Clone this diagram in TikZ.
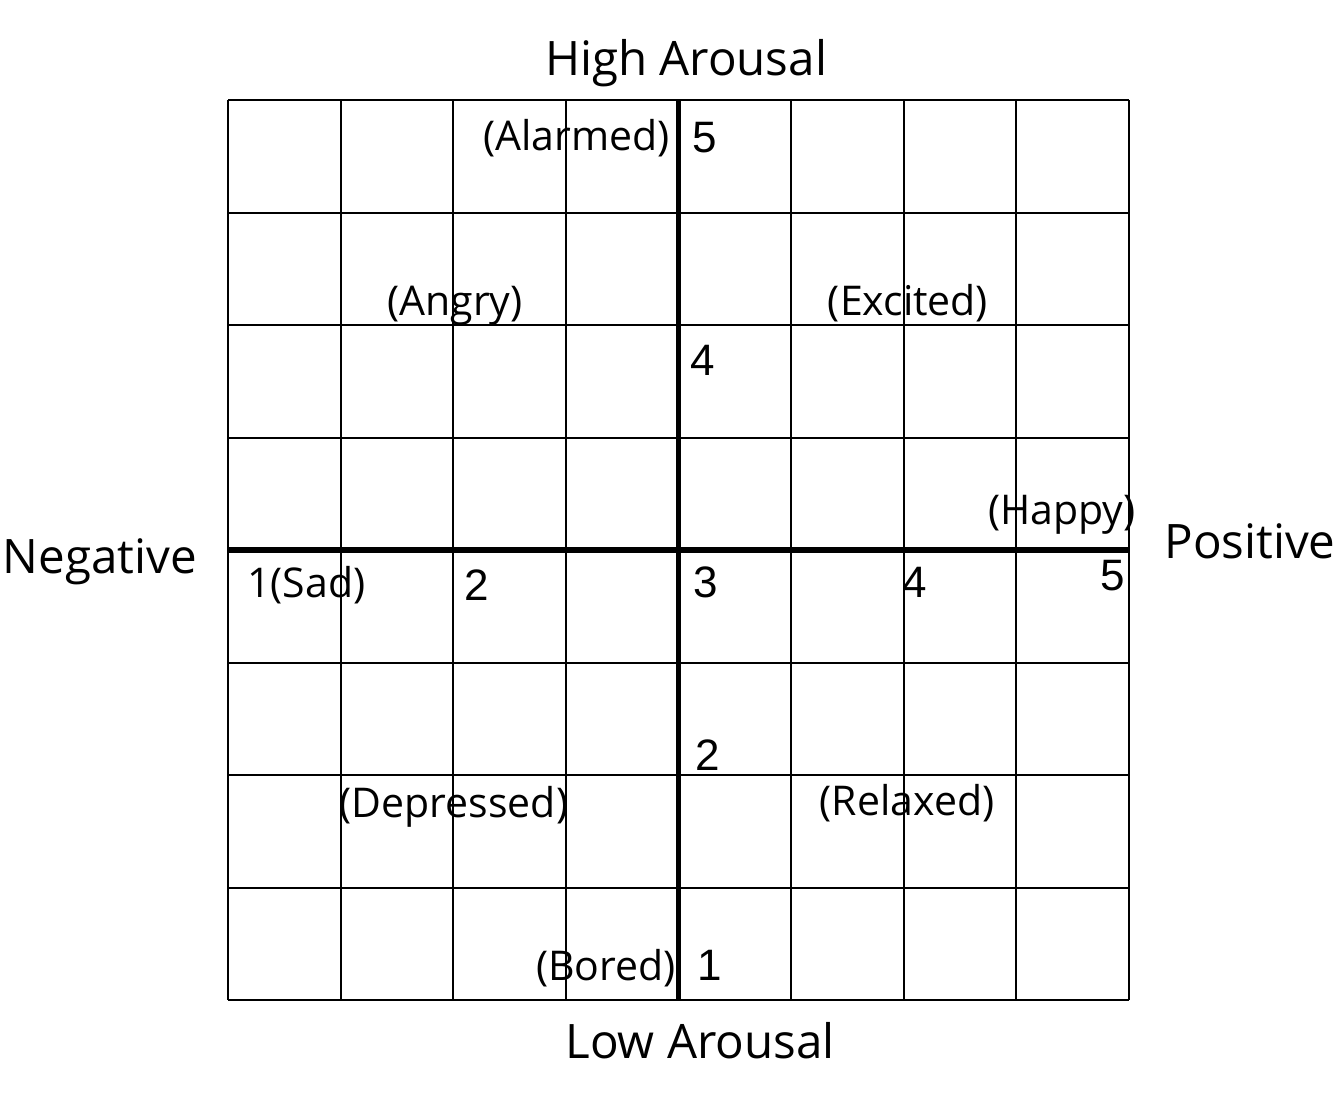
\documentclass[tikz,border=0pt]{standalone}
\usepackage{fontspec}
\setmainfont{Open Sans}
\newfontfamily\digitfont{Liberation Sans}
\begin{document}
\begin{tikzpicture}[x=1pt,y=-1pt,
  title/.style={inner sep=0pt,font=\fontsize{47.5}{50}\selectfont},
  emo/.style={inner sep=0pt,font=\fontsize{41}{43}\selectfont},
  num/.style={inner sep=0pt,font=\digitfont\fontsize{44}{46}\selectfont},
  gridline/.style={line width=2pt,black},
  axisline/.style={line width=5.5pt,black}]
\useasboundingbox[fill=white] (0,0) rectangle (1338,1092);
% grid
\foreach \i in {0,...,8} {
  \draw[gridline] ({228+\i*112.625},100) -- ({228+\i*112.625},1000);
  \draw[gridline] (228,{100+\i*112.5}) -- (1129,{100+\i*112.5});
}
\draw[axisline] (678.5,100) -- (678.5,1000);
\draw[axisline] (228,550) -- (1129,550);
% titles
\node[title,anchor=base] (high) at (686,75) {High Arousal};
\node[title,anchor=base] (low) at (700,1058) {Low Arousal};
\node[title,anchor=base] (neg) at (100,573) {Negative};
\node[title,anchor=base] (pos) at (1250,558) {Positive};
% emotion labels
\node[emo,anchor=base east] (alarmed) at (670,150) {(Alarmed)};
\node[emo,anchor=base] (angry) at (455,315) {(Angry)};
\node[emo,anchor=base] (excited) at (908,315) {(Excited)};
\node[emo,anchor=base] (happy) at (1062,524) {(Happy)};
\node[emo,anchor=base west] (sad) at (247,597) {1(Sad)};
\node[emo,anchor=base] (depressed) at (454,817) {(Depressed)};
\node[emo,anchor=base] (relaxed) at (907,815) {(Relaxed)};
\node[emo,anchor=base east] (bored) at (676,980) {(Bored)};
% numbers
\node[num,anchor=base west] (v5) at (692,152) {5};
\node[num,anchor=base west] (v4) at (690,375) {4};
\node[num,anchor=base west] (v3) at (693,597) {3};
\node[num,anchor=base west] (v2) at (695,770) {2};
\node[num,anchor=base west] (v1) at (697,980) {1};
\node[num,anchor=base] (h2) at (477,600) {2};
\node[num,anchor=base] (h4) at (915,597) {4};
\node[num,anchor=base] (h5) at (1113,590) {5};
\end{tikzpicture}
\end{document}
